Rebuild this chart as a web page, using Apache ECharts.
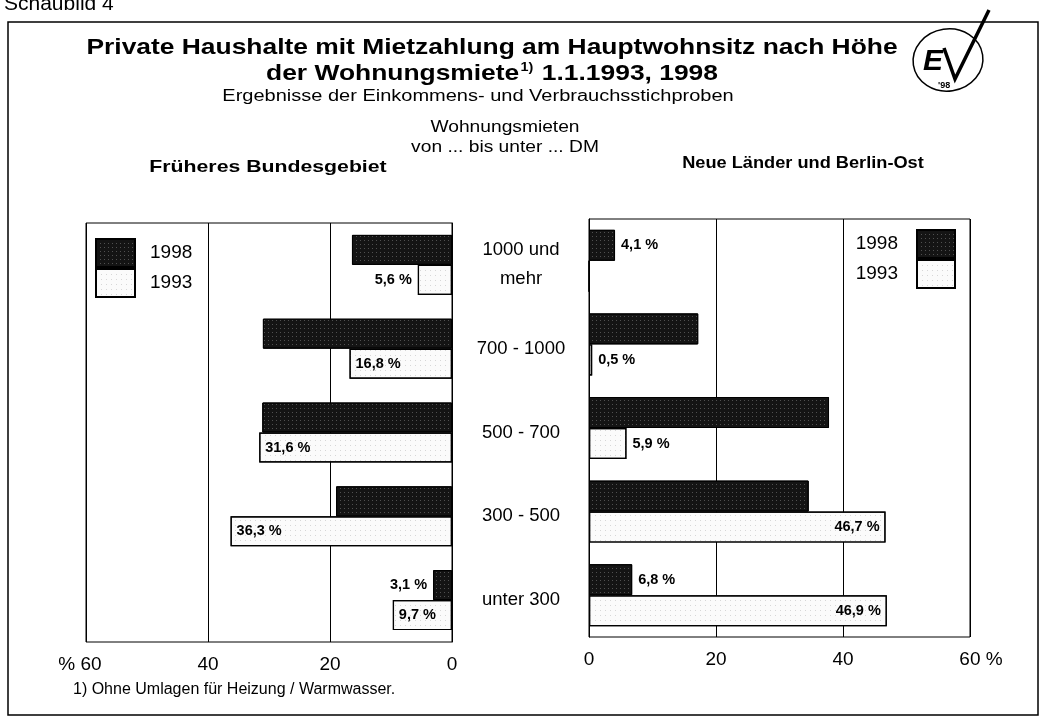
<!DOCTYPE html>
<html>
<head>
<meta charset="utf-8">
<script src="https://cdn.jsdelivr.net/npm/echarts@6/dist/echarts.min.js"></script>
<style>
html,body{margin:0;padding:0;background:#fff;}
#c{width:1042px;height:718px;}
</style>
</head>
<body>
<div id="c"></div>
<script>
// ---- data ----
var categories = ['1000 und\nmehr', '700 - 1000', '500 - 700', '300 - 500', 'unter 300'];
var seriesNames = ['1998', '1993'];
var west1998 = [16.4, 31.0, 31.1, 19.0, 3.1];
var west1993 = [5.6, 16.8, 31.6, 36.3, 9.7];
var east1998 = [4.1, 17.2, 37.8, 34.6, 6.8];
var east1993 = [0, 0.5, 5.9, 46.7, 46.9];
var axisTicks = [0, 20, 40, 60];

// which bars carry a value label (and where)
var labelWest1998 = {4: 'left'};
var labelWest1993 = {0: 'left', 1: 'insideLeft', 2: 'insideLeft', 3: 'insideLeft', 4: 'insideLeft'};
var labelEast1998 = {0: 'right', 4: 'right'};
var labelEast1993 = {1: 'right', 2: 'right', 3: 'insideRight', 4: 'insideRight'};

var FONT = '"Liberation Sans", Arial, sans-serif';

function fmt(v) { return v.toFixed(1).replace('.', ',') + ' %'; }

function buildData(values, labels) {
  return values.map(function (v, i) {
    var item = {value: v};
    if (labels[i]) {
      item.label = {
        show: true, position: labels[i], distance: labels[i].indexOf('inside') === 0 ? 6 : 6,
        formatter: fmt(v), color: '#000', fontFamily: FONT, fontWeight: 'bold', fontSize: 14.5
      };
    }
    return item;
  });
}

var style98 = {
  color: '#141414', borderColor: '#000', borderWidth: 1,
  decal: {symbol: 'rect', symbolSize: 1, color: 'rgba(140,140,140,0.5)', dashArrayX: [1, 3], dashArrayY: [1, 3], rotation: 0}
};
var style93 = {
  color: '#fbfbfb', borderColor: '#000', borderWidth: 1.2,
  decal: {symbol: 'rect', symbolSize: 1, color: 'rgba(170,170,170,0.45)', dashArrayX: [1, 4], dashArrayY: [1, 4], rotation: 0}
};

var chart = echarts.init(document.getElementById('c'), null, {renderer: 'canvas'});

function xAxisCfg(gridIndex, inverse, lastFmt, pad) {
  return {
    type: 'value', gridIndex: gridIndex, min: axisTicks[0], max: axisTicks[axisTicks.length - 1],
    interval: axisTicks[1] - axisTicks[0], inverse: inverse,
    axisLine: {show: false}, axisTick: {show: false},
    splitLine: {show: true, lineStyle: {color: '#000', width: 1}},
    axisLabel: {
      color: '#000', fontFamily: FONT, fontSize: 19, margin: 13,
      formatter: function (v) { return v === 60 ? '{p|' + lastFmt + '}' : String(v); },
      rich: {p: {color: '#000', fontFamily: FONT, fontSize: 19, padding: pad}}
    }
  };
}

function txt(text, x, y, font, sx, extra) {
  var st = {text: text, x: 0, y: 0, textAlign: 'center', textVerticalAlign: 'middle', font: font + ' ' + FONT, fill: '#000'};
  if (extra) { for (var k in extra) st[k] = extra[k]; }
  return {type: 'text', x: x, y: y, scaleX: sx || 1, scaleY: 1, style: st, silent: true};
}

var option = {
  backgroundColor: '#fff',
  animation: false,
  grid: [
    {left: 86, top: 223, width: 366, height: 419, show: true, borderColor: '#000', borderWidth: 1, backgroundColor: 'transparent'},
    {left: 589, top: 219, width: 381, height: 418, show: true, borderColor: '#000', borderWidth: 1, backgroundColor: 'transparent'}
  ],
  xAxis: [xAxisCfg(0, true, '% 60', [0, 12, 0, 0]), xAxisCfg(1, false, '60 %', [0, 0, 0, 22])],
  yAxis: [
    {
      type: 'category', gridIndex: 0, data: categories, inverse: true, position: 'right',
      axisLine: {show: true, lineStyle: {color: '#000'}}, axisTick: {show: false},
      axisLabel: {color: '#000', fontFamily: FONT, fontSize: 18.5, margin: 69, align: 'center', lineHeight: 29}
    },
    {
      type: 'category', gridIndex: 1, data: categories, inverse: true, position: 'left',
      axisLine: {show: true, lineStyle: {color: '#000'}}, axisTick: {show: false},
      axisLabel: {show: false}
    }
  ],
  legend: [
    {
      data: seriesNames, orient: 'vertical', left: 90, top: 233, itemWidth: 39, itemHeight: 28, itemGap: 0,
      icon: 'rect', selectedMode: false, align: 'left',
      textStyle: {color: '#000', fontFamily: FONT, fontSize: 19, padding: [0, 0, 0, 10]}
    },
    {
      data: seriesNames, orient: 'vertical', right: 81, top: 224, itemWidth: 38, itemHeight: 28, itemGap: 0,
      icon: 'rect', selectedMode: false, align: 'right',
      textStyle: {color: '#000', fontFamily: FONT, fontSize: 19, padding: [0, 14, 0, 0]}
    }
  ],
  series: [
    {name: seriesNames[0], type: 'bar', xAxisIndex: 0, yAxisIndex: 0, barWidth: 30, barGap: '0%', itemStyle: style98, data: buildData(west1998, labelWest1998)},
    {name: seriesNames[1], type: 'bar', xAxisIndex: 0, yAxisIndex: 0, barWidth: 30, barGap: '0%', itemStyle: style93, data: buildData(west1993, labelWest1993)},
    {name: seriesNames[0], type: 'bar', xAxisIndex: 1, yAxisIndex: 1, barWidth: 31, barGap: '0%', itemStyle: style98, data: buildData(east1998, labelEast1998)},
    {name: seriesNames[1], type: 'bar', xAxisIndex: 1, yAxisIndex: 1, barWidth: 31, barGap: '0%', itemStyle: style93, data: buildData(east1993, labelEast1993)}
  ],
  graphic: [
    {type: 'rect', shape: {x: 8, y: 22, width: 1030, height: 693}, style: {fill: 'none', stroke: '#000', lineWidth: 1.5}, silent: true, z: -1},
    {type: 'text', style: {text: 'Schaubild 4', x: 4, y: 15, textVerticalAlign: 'bottom', font: '21px ' + FONT, fill: '#000'}},
    txt('Private Haushalte mit Mietzahlung am Hauptwohnsitz nach Höhe', 492, 48, 'bold 22px', 1.2),
    txt('der Wohnungsmiete{s|1)} 1.1.1993, 1998', 492, 74, 'bold 22px', 1.2, {
      rich: {s: {fontSize: 12, fontWeight: 'bold', fontFamily: FONT, fill: '#000', verticalAlign: 'top', lineHeight: 24, padding: [0, 1, 8, 1]}}
    }),
    txt('Ergebnisse der Einkommens- und Verbrauchsstichproben', 478, 97, '16px', 1.25),
    txt('Wohnungsmieten', 505, 128, '16px', 1.2),
    txt('von ... bis unter ... DM', 505, 148, '16px', 1.2),
    txt('Früheres Bundesgebiet', 268, 167, 'bold 17px', 1.25),
    txt('Neue Länder und Berlin-Ost', 803, 163, 'bold 17px', 1.07),
    {type: 'text', style: {text: '1) Ohne Umlagen für Heizung / Warmwasser.', x: 73, y: 690, textVerticalAlign: 'middle', font: '16px ' + FONT, fill: '#000'}},
    // logo
    {type: 'ellipse', shape: {cx: 948, cy: 60, rx: 35, ry: 31}, style: {fill: 'none', stroke: '#000', lineWidth: 1.5}, rotation: 0.15, originX: 948, originY: 60},
    {type: 'text', style: {text: 'E', x: 923, y: 62, textVerticalAlign: 'middle', font: 'italic bold 30px ' + FONT, fill: '#000'}},
    {type: 'polyline', shape: {points: [[944, 48], [955, 79], [989, 10]]}, style: {fill: 'none', stroke: '#000', lineWidth: 3.5}},
    {type: 'text', style: {text: "'98", x: 938, y: 86, textVerticalAlign: 'middle', font: 'bold 9px ' + FONT, fill: '#000'}}
  ]
};
chart.setOption(option);
</script>
</body>
</html>
